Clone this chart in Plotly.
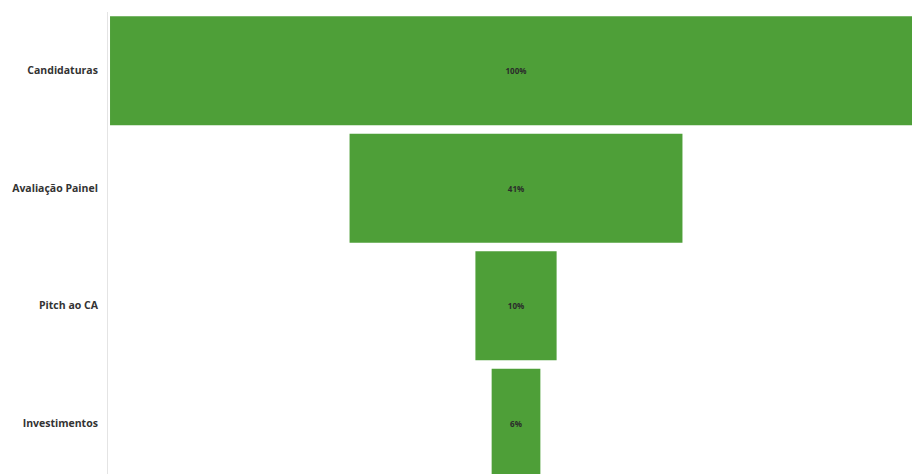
import plotly.graph_objects as go

# Funnel stages and their share of the initial applications (%)
stages = ["Candidaturas", "Avaliação Painel", "Pitch ao CA", "Investimentos"]
shares = [100, 41, 10, 6]
labels = [f"{v}%" for v in shares]

fig = go.Figure(
    go.Funnel(
        y=stages,
        x=shares,
        text=labels,
        textinfo="text",
        textposition="inside",
        insidetextanchor="middle",
        textfont=dict(family="Open Sans", size=8, color="#2b2b2b", weight="bold"),
        marker=dict(color="#4e9f38", line=dict(width=0)),
        connector=dict(visible=False),
        constraintext="none",
    )
)

fig.update_layout(
    width=912,
    height=474,
    margin=dict(l=108, r=0, t=12, b=0),
    paper_bgcolor="white",
    plot_bgcolor="white",
    showlegend=False,
    funnelgap=0.072,
    xaxis=dict(range=[-50.25, 48.77], visible=False, fixedrange=True),
    yaxis=dict(
        range=[3.432, -0.5],
        showline=True,
        linecolor="#e4e4e4",
        linewidth=1,
        ticks="",
        ticklabelstandoff=7,
        tickfont=dict(family="Open Sans", size=10.5, color="#333333", weight="bold"),
        showgrid=False,
        zeroline=False,
    ),
)

fig.write_html("out.html")
